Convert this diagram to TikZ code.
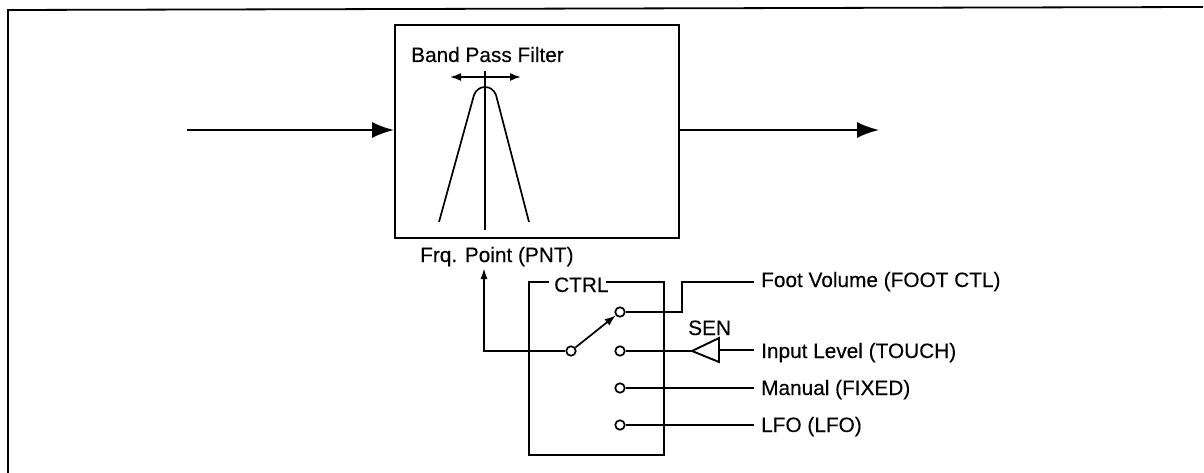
\documentclass[tikz,border=0pt]{standalone}
\usepackage{fontspec}
\setmainfont[FakeBold=0.25]{Liberation Sans}
\usetikzlibrary{arrows.meta}
\tikzset{
  x=1pt,y=-1pt,
  wire/.style={line width=1.9pt,line cap=butt},
  thinwire/.style={line width=1.7pt},
  arr/.style={wire,-{Latex[length=22pt,width=16pt]}},
  smallarr/.style={thinwire,-{Latex[length=11pt,width=7pt]}},
  dbl/.style={thinwire,{Latex[length=11pt,width=8pt]}-{Latex[length=11pt,width=8pt]}},
  term/.style={circle,draw,line width=1.7pt,fill=white,minimum size=9.5pt,inner sep=0pt},
  lbl/.style={inner ysep=0pt,inner xsep=0pt,font=\fontsize{20.8}{24}\selectfont,text=black},
  rlbl/.style={lbl,inner xsep=7pt},
  box/.style={draw,line width=2.2pt,inner sep=0pt}
}
\begin{document}
\begin{tikzpicture}
\useasboundingbox (0,0) rectangle (1204,473);
\fill[white] (0,0) rectangle (1204,473);
% outer frame (open at the right)
\draw[line width=1.8pt] (8,473) -- (8,10) -- (1203,7);
% filter box
\node[box,minimum width=284pt,minimum height=213pt,anchor=north west] (filter) at (394,24) {};
\coordinate (inL) at (187,130);
\coordinate (outR) at (879,130);
\draw[arr] (inL) -- (filter.west |- inL);
\draw[arr] (filter.east |- outR) -- (outR);
\node[lbl,anchor=base west] (bpf) at (411,62) {Band Pass Filter};
\coordinate (axT) at (485,71);
\coordinate (axB) at (485,230);
\draw[thinwire] (axT) -- (axB);
\coordinate (dL) at (450,77);
\coordinate (dR) at (521,77);
\draw[dbl] (dL) -- (dR);
\coordinate (pL) at (439,222);
\coordinate (pR) at (529,222);
\draw[thinwire] (pL) -- (474,95) .. controls (476,90) and (480,87) .. (485,87)
   .. controls (490,87) and (494,90) .. (496,95) -- (pR);
\node[lbl,anchor=base west] (frq) at (420,262) {Frq. Point (PNT)};
% CTRL box
\coordinate (cTL) at (529,282);
\coordinate (cTR) at (664,282);
\coordinate (cBR) at (664,455);
\coordinate (cBL) at (529,455);
\coordinate (cGapL) at (549,282);
\coordinate (cGapR) at (606,282);
\draw[wire] (cGapL) -- (cTL) -- (cBL) -- (cBR) -- (cTR) -- (cGapR);
\node[lbl,anchor=base west] (ctrl) at (554,292) {CTRL};
% terminals
\node[term] (t0) at (571,351) {};
\node[term] (t1) at (620,312) {};
\node[term] (t2) at (620,351) {};
\node[term] (t3) at (620,388) {};
\node[term] (t4) at (620,425) {};
% labels
\node[rlbl,anchor=base west] (l1) at (754,287) {Foot Volume (FOOT CTL)};
\node[rlbl,anchor=base west] (l2) at (754,358) {Input Level (TOUCH)};
\node[rlbl,anchor=base west] (l3) at (754,395) {Manual (FIXED)};
\node[rlbl,anchor=base west] (l4) at (754,432) {LFO (LFO)};
\node[lbl,anchor=base west] (sen) at (688,335) {SEN};
% wires
\coordinate (corner) at (484,351);
\coordinate (frqIn) at (484,268);
\draw[smallarr] (t0.west) -- (corner) -- (frqIn);
\draw[thinwire,-{Latex[length=11pt,width=8pt]}] (t0) -- (t1);
\coordinate (j1) at (682,312);
\coordinate (j2) at (682,282);
\draw[wire] (t1.east) -- (j1) -- (j2) -- (l1.west |- j2);
% amplifier
\coordinate (ampTip) at (692,351);
\coordinate (ampT) at (719,338);
\coordinate (ampB) at (719,362);
\coordinate (ampIn) at (719,350);
\draw[wire] (ampTip) -- (ampT) -- (ampB) -- cycle;
\draw[wire] (t2.east) -- (ampTip);
\draw[wire] (ampIn) -- (l2.west |- ampIn);
\draw[thinwire] (t3.east) -- (l3.west |- t3);
\draw[wire] (t4.east) -- (l4.west |- t4);
\end{tikzpicture}
\end{document}
